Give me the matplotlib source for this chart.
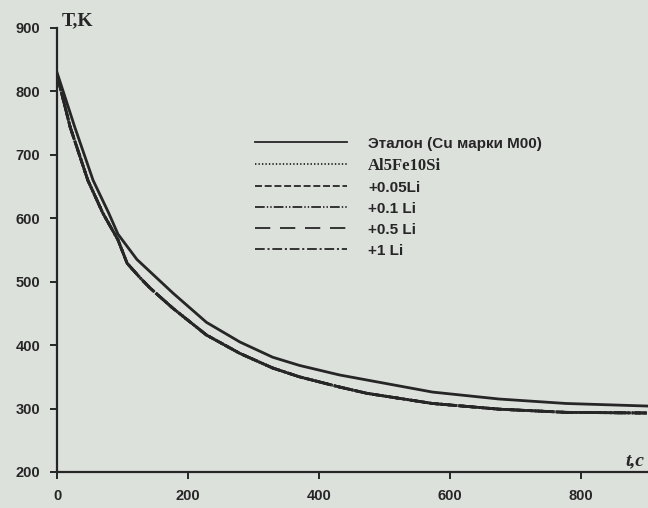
import matplotlib
matplotlib.use("Agg")
import matplotlib.pyplot as plt

# cooling curves (time, s / temperature, K)
t_ref = [0, 27, 55, 79, 93, 122, 177, 228, 279, 329, 370, 431, 473, 573, 675, 777, 900]
T_ref = [830, 744, 660, 608, 575, 535, 482, 436, 405, 381, 368, 353, 345, 326, 315, 308, 304]

t_al = [0, 20, 47, 70, 93, 107, 127, 142, 177, 228, 279, 329, 370, 431, 473, 573, 675, 777, 900]
T_al = [826, 744, 660, 608, 566, 529, 506, 490, 458, 416, 387, 364, 350, 334, 324, 308, 299, 294, 293]

labels = ["Эталон (Cu марки M00)", "Al5Fe10Si", "+0.05Li", "+0.1 Li", "+0.5 Li", "+1 Li"]
x_ticks = [0, 200, 400, 600, 800]
y_ticks = [200, 300, 400, 500, 600, 700, 800, 900]

BG = "#dce1dc"
INK = "#262626"

plt.rcParams["font.family"] = ["Liberation Sans", "DejaVu Sans"]
plt.rcParams["lines.scale_dashes"] = False

fig = plt.figure(figsize=(6.48, 5.08), dpi=100, facecolor=BG)
ax = fig.add_axes([0.088, 0.0709, 0.912, 0.874], facecolor=BG)

styles = [
    "-",
    (0, (1, 1.5)),
    (0, (5, 2)),
    (0, (7, 1.5, 1, 1.5, 1, 1.5)),
    (0, (11, 7)),
    (0, (7, 2, 1.5, 2)),
]

ax.plot(t_ref, T_ref, color=INK, lw=2.0, ls=styles[0], label=labels[0])
for lab, ls in zip(labels[1:], styles[1:]):
    ax.plot(t_al, T_al, color=INK, lw=2.0, ls=ls, label=lab)

ax.set_xlim(0, 902)
ax.set_ylim(200, 900)
ax.set_xticks(x_ticks)
ax.set_yticks(y_ticks)

for side in ["top", "right"]:
    ax.spines[side].set_visible(False)
for side in ["left", "bottom"]:
    ax.spines[side].set_color(INK)
    ax.spines[side].set_linewidth(1.6)

ax.tick_params(direction="out", length=5, width=1.4, colors=INK, labelsize=10.5, pad=7)
for lbl in ax.get_xticklabels() + ax.get_yticklabels():
    lbl.set_fontweight("bold")

leg = ax.legend(
    loc="upper left",
    bbox_to_anchor=(0.3935, 0.731),
    bbox_transform=fig.transFigure,
    frameon=False,
    borderpad=0,
    borderaxespad=0,
    handlelength=6.0,
    handletextpad=1.4,
    labelspacing=0.46,
    prop={"size": 11, "weight": "bold"},
)
for line in leg.get_lines():
    line.set_linewidth(1.3)
for i, txt in enumerate(leg.get_texts()):
    txt.set_color(INK)
    if i == 1:
        txt.set_family("Liberation Serif")
        txt.set_size(12)

fig.text(0.0957, 0.959, "T,K", family="Liberation Serif", weight="bold",
         size=14, color=INK, ha="left", va="center")
fig.text(0.965, 0.094, "t,c", family="Liberation Serif", weight="bold",
         style="italic", size=14, color=INK, ha="left", va="center")

fig.savefig("out.png", dpi=100, facecolor=BG)
